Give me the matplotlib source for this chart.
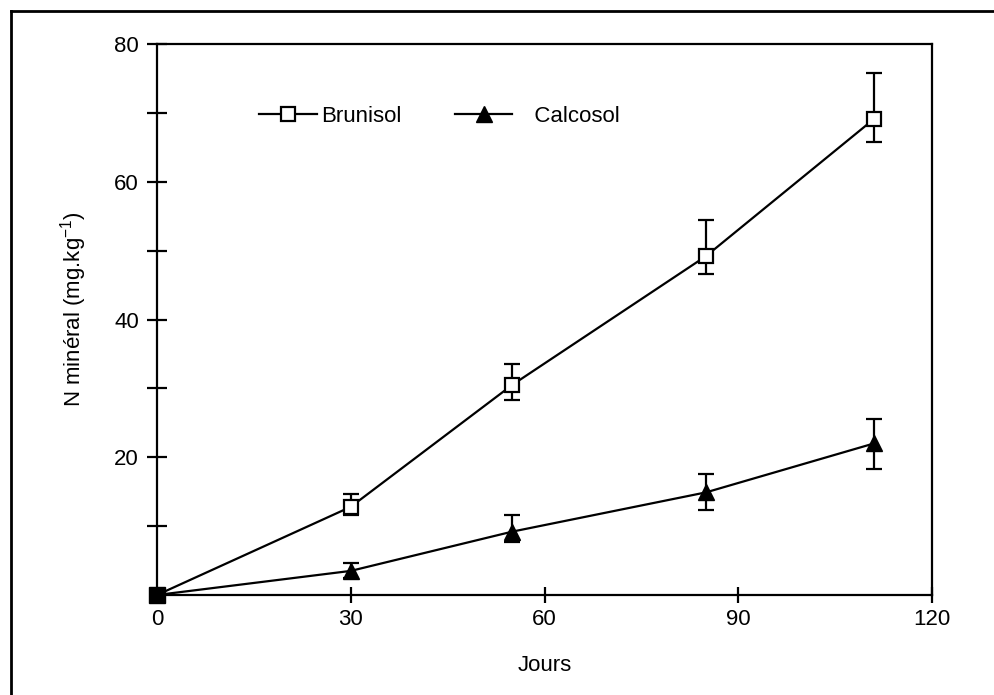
import matplotlib
matplotlib.use("Agg")
import matplotlib.pyplot as plt
from matplotlib.lines import Line2D
import numpy as np

plt.rcParams['font.family'] = ['Liberation Sans', 'DejaVu Sans']
FS = 16

days = [0, 30, 55, 85, 111]
brunisol = [0, 12.8, 30.5, 49.2, 69.1]
brunisol_up = [0, 14.7, 33.5, 54.5, 75.8]
brunisol_lo = [0, 11.6, 28.3, 46.6, 65.8]
calcosol = [0, 3.5, 9.2, 14.9, 22.0]
calcosol_up = [0, 4.6, 11.6, 17.5, 25.5]
calcosol_lo = [0, 2.5, 7.7, 12.3, 18.3]
xticks = [0, 30, 60, 90, 120]
yticks = [20, 40, 60, 80]
yminor = [10, 30, 50, 70]

W, H = 994, 695
fig = plt.figure(figsize=(W/100, H/100), dpi=100)
ax = fig.add_axes([157/W, 1-595/H, (932-157)/W, (595-44)/H])

lw = 1.6
b = np.array(brunisol); c = np.array(calcosol)
b_err = [b - np.array(brunisol_lo), np.array(brunisol_up) - b]
c_err = [c - np.array(calcosol_lo), np.array(calcosol_up) - c]

ax.errorbar(days[1:], brunisol[1:], yerr=[e[1:] for e in b_err], fmt='none',
            ecolor='black', elinewidth=lw, capsize=6, capthick=lw, zorder=2)
ax.errorbar(days[1:], calcosol[1:], yerr=[e[1:] for e in c_err], fmt='none',
            ecolor='black', elinewidth=lw, capsize=6, capthick=lw, zorder=2)
ax.plot(days, brunisol, color='black', lw=lw, zorder=3)
ax.plot(days, calcosol, color='black', lw=lw, zorder=3)
ax.plot(days[1:], brunisol[1:], ls='none', marker='s', ms=10, mfc='white',
        mec='black', mew=1.6, zorder=4)
ax.plot(days[1:], calcosol[1:], ls='none', marker='^', ms=11, mfc='black',
        mec='black', zorder=4)
ax.plot(days[:1], brunisol[:1], ls='none', marker='s', ms=11, mfc='black',
        mec='black', zorder=5, clip_on=False)

ax.set_xlim(0, 120)
ax.set_ylim(0, 80)
ax.set_xticks(xticks)
ax.set_xticklabels([str(t) for t in xticks])
ax.set_yticks(yticks)
ax.set_yticklabels([str(t) for t in yticks])
ax.set_yticks(yminor, minor=True)
ax.tick_params(axis='y', which='both', direction='inout', length=14, width=1.6,
               labelsize=FS, pad=6)
ax.tick_params(axis='x', which='both', direction='inout', length=12, width=1.6,
               labelsize=FS, pad=4)
for s in ax.spines.values():
    s.set_linewidth(1.6)

ax.set_xlabel('Jours', fontsize=FS, labelpad=18)
ax.set_ylabel('N minéral (mg.kg$^{\\mathregular{-1}}$)', fontsize=FS)
ax.yaxis.set_label_coords(-0.088, 0.519)

h1 = Line2D([], [], color='black', lw=lw, marker='s', ms=10, mfc='white', mec='black', mew=1.6)
h2 = Line2D([], [], color='black', lw=lw, marker='^', ms=11, mfc='black', mec='black')
ax.legend([h1, h2], ['Brunisol', '   Calcosol'], loc='center left',
          bbox_to_anchor=(0.106, 0.868), ncol=2, frameon=False, fontsize=FS,
          handlelength=2.6, handletextpad=0.18, columnspacing=2.4)

# outer frame
fig.add_artist(Line2D([11/W, 1.0], [1-11/H, 1-11/H], color='black', lw=2,
                      transform=fig.transFigure))
fig.add_artist(Line2D([11/W, 11/W], [1-11/H, 0.0], color='black', lw=2,
                      transform=fig.transFigure))

fig.savefig('out.png', dpi=100)
